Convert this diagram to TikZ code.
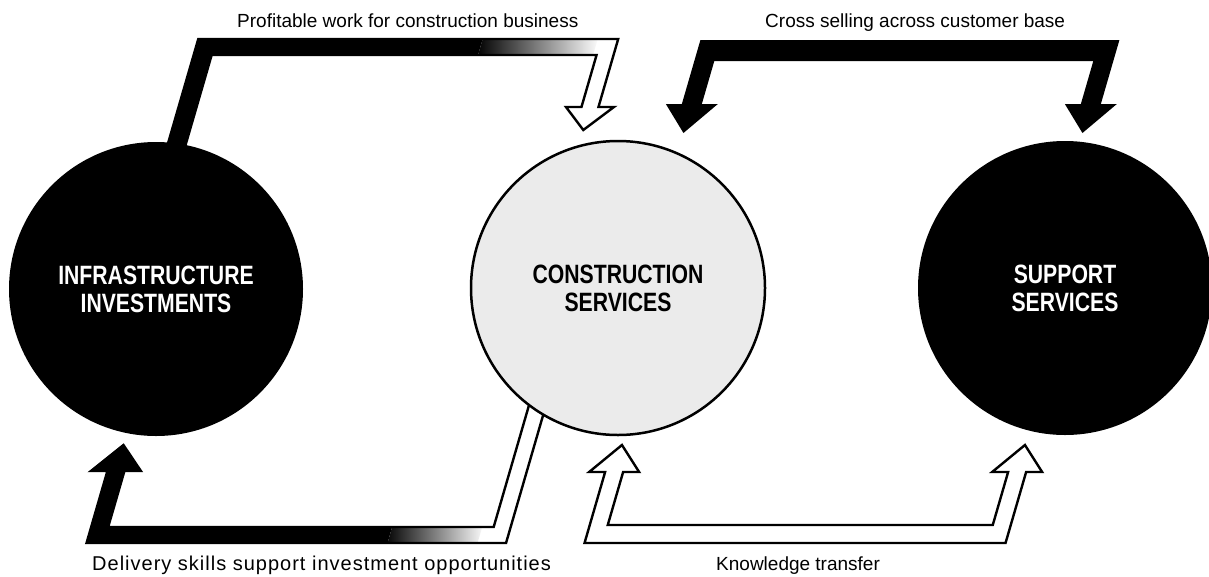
\documentclass[tikz,border=0pt]{standalone}
\usepackage{fontspec}
\setmainfont{Liberation Sans}
\newfontfamily\hubfont[FakeStretch=0.8]{Liberation Sans}

% band arrows, drawn upright and leaned by the slanted scope
\newcommand\arrowProfit{(209.6,185) -- (209.6,39) -- (629.5,39) -- (629.5,107) -- (645,107) -- (621,130) -- (597,107) -- (612.5,107) -- (612.5,55) -- (227.6,55) -- (227.6,185) -- cycle}
\newcommand\arrowCross{(696,104) -- (722,133) -- (748,104) -- (732,104) -- (732,61) -- (1111,61) -- (1111,104) -- (1095,104) -- (1121,133) -- (1147,104) -- (1131,104) -- (1131,40) -- (712,40) -- (712,104) -- cycle}
\newcommand\arrowDeliver{(227.5,471) -- (252.5,445) -- (277.5,471) -- (261,471) -- (261,527) -- (646.5,527) -- (646.5,380) -- (663.5,380) -- (663.5,543) -- (244,543) -- (244,471) -- cycle}
\newcommand\arrowKnow{(726,472) -- (751,445) -- (776,472) -- (760,472) -- (760,525) -- (1145,525) -- (1145,472) -- (1129,472) -- (1154,445) -- (1179,472) -- (1163,472) -- (1163,543) -- (742,543) -- (742,472) -- cycle}

\begin{document}
\begin{tikzpicture}[x=1pt,y=-1pt,
  hub/.style={circle,fill=black,text=white,minimum size=294pt,inner sep=0pt,align=center,
    font=\hubfont\bfseries\fontsize{26.5}{28}\selectfont},
  core/.style={hub,draw=black,line width=2.5pt,fill=black!8,text=black},
  outline/.style={draw=black,line width=2.4pt,line join=miter},
  solidarrow/.style={fill=black},
  lbl/.style={font=\fontsize{19}{21}\selectfont,inner sep=0pt},
  widelbl/.style={font=\fontsize{20}{22}\selectfont\addfontfeature{LetterSpace=5},inner sep=0pt}]

\useasboundingbox (0,0) rectangle (1209,576);

% ---------- band arrows ----------
\begin{scope}[xslant=0.29]
  % profitable work: solid, opening up towards its head
  \begin{scope}
    \clip \arrowProfit;
    \fill[white] (150,30) rectangle (660,190);
    \fill[black] (150,30) rectangle (494,190);
    \shade[left color=black,right color=white] (494,32) rectangle (609,62);
  \end{scope}
  \draw[outline] \arrowProfit;

  % cross selling: solid, two heads
  \fill[solidarrow] \arrowCross;

  % delivery skills: open at the construction end
  \begin{scope}
    \clip \arrowDeliver;
    \fill[white] (200,370) rectangle (680,550);
    \fill[black] (200,370) rectangle (545,550);
    \shade[left color=black,right color=white] (545,515) rectangle (635,555);
  \end{scope}
  \draw[outline] \arrowDeliver;

  % knowledge transfer: open, two heads
  \draw[outline,fill=white] \arrowKnow;
\end{scope}

% ---------- businesses ----------
\node[hub]  (infra)   at (156,289)  {INFRASTRUCTURE\\INVESTMENTS};
\node[core] (constr)  at (618,288)  {CONSTRUCTION\\SERVICES};
\node[hub]  (support) at (1065,288) {SUPPORT\\SERVICES};

% ---------- labels ----------
\node[lbl,anchor=base west] (lblprofit)  at (237,27)  {Profitable work for construction business};
\node[lbl,anchor=base west] (lblcross)   at (765,27)  {Cross selling across customer base};
\node[widelbl,anchor=base west] (lbldeliver) at (92,570) {Delivery skills support investment opportunities};
\node[lbl,anchor=base west] (lblknow)    at (716,570) {Knowledge transfer};
\end{tikzpicture}
\end{document}
